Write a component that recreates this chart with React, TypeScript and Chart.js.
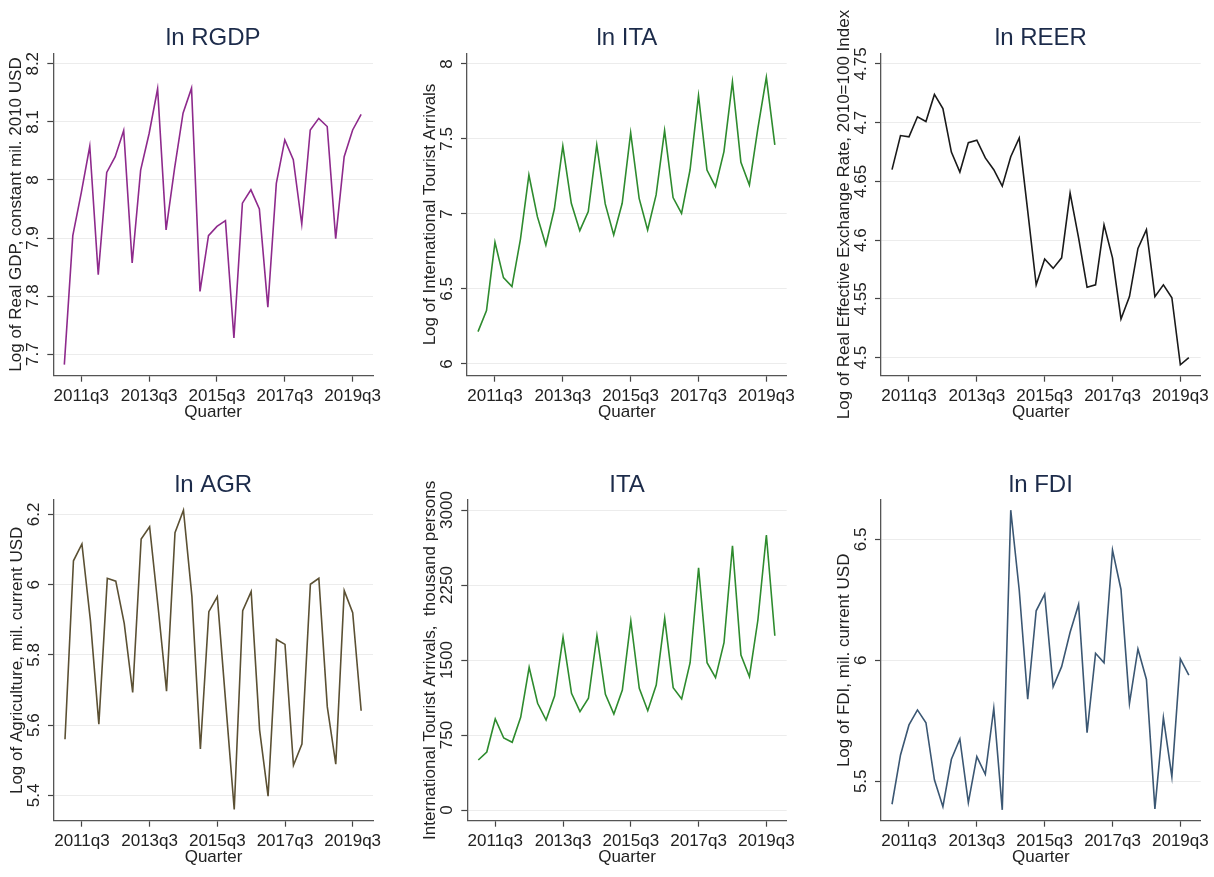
import React, { useEffect, useRef } from 'react';
import { Chart, registerables } from 'chart.js';

Chart.register(...registerables);

const quarters = [
  '2011q1', '2011q2', '2011q3', '2011q4', '2012q1', '2012q2', '2012q3', '2012q4',
  '2013q1', '2013q2', '2013q3', '2013q4', '2014q1', '2014q2', '2014q3', '2014q4',
  '2015q1', '2015q2', '2015q3', '2015q4', '2016q1', '2016q2', '2016q3', '2016q4',
  '2017q1', '2017q2', '2017q3', '2017q4', '2018q1', '2018q2', '2018q3', '2018q4',
  '2019q1', '2019q2', '2019q3', '2019q4',
];
const xTickLabels = ['2011q3', '2013q3', '2015q3', '2017q3', '2019q3'];

const lnRGDP = [7.682, 7.904, 7.978, 8.058, 7.837, 8.013, 8.04, 8.085, 7.857, 8.017, 8.08, 8.157, 7.914, 8.02, 8.115, 8.158, 7.808, 7.904, 7.92, 7.93, 7.728, 7.96, 7.983, 7.95, 7.781, 7.994, 8.069, 8.035, 7.924, 8.086, 8.106, 8.092, 7.899, 8.04, 8.086, 8.113];
const lnITA = [6.216, 6.356, 6.811, 6.576, 6.516, 6.831, 7.26, 6.982, 6.793, 7.033, 7.453, 7.071, 6.889, 7.016, 7.46, 7.067, 6.86, 7.071, 7.542, 7.104, 6.893, 7.127, 7.556, 7.109, 7.004, 7.293, 7.789, 7.293, 7.182, 7.416, 7.88, 7.344, 7.193, 7.571, 7.911, 7.46];
const lnREER = [4.66, 4.689, 4.688, 4.705, 4.701, 4.724, 4.712, 4.675, 4.658, 4.683, 4.685, 4.67, 4.66, 4.646, 4.671, 4.687, 4.625, 4.562, 4.584, 4.576, 4.585, 4.64, 4.602, 4.56, 4.562, 4.613, 4.585, 4.533, 4.552, 4.593, 4.609, 4.552, 4.562, 4.551, 4.494, 4.5];
const lnAGR = [5.56, 6.068, 6.116, 5.899, 5.603, 6.018, 6.01, 5.89, 5.693, 6.13, 6.165, 5.937, 5.697, 6.148, 6.212, 5.966, 5.532, 5.923, 5.966, 5.662, 5.36, 5.926, 5.98, 5.586, 5.398, 5.844, 5.83, 5.486, 5.546, 6.001, 6.018, 5.652, 5.489, 5.983, 5.92, 5.641];
const ITA = [500, 580, 910, 720, 677, 927, 1427, 1067, 900, 1140, 1727, 1167, 983, 1117, 1743, 1157, 960, 1200, 1890, 1217, 993, 1250, 1917, 1223, 1110, 1473, 2423, 1473, 1323, 1673, 2643, 1550, 1333, 1900, 2750, 1743];
const lnFDI = [5.405, 5.609, 5.733, 5.795, 5.742, 5.506, 5.395, 5.591, 5.675, 5.412, 5.602, 5.529, 5.802, 5.382, 6.621, 6.291, 5.839, 6.205, 6.274, 5.891, 5.974, 6.116, 6.231, 5.701, 6.029, 5.99, 6.456, 6.293, 5.822, 6.047, 5.921, 5.386, 5.763, 5.519, 6.006, 5.939];

const rgdpTicks = [7.7, 7.8, 7.9, 8, 8.1, 8.2];
const lnItaTicks = [6, 6.5, 7, 7.5, 8];
const reerTicks = [4.5, 4.55, 4.6, 4.65, 4.7, 4.75];
const agrTicks = [5.4, 5.6, 5.8, 6, 6.2];
const itaTicks = [0, 750, 1500, 2250, 3000];
const fdiTicks = [5.5, 6, 6.5];

const FONT = '"Liberation Sans", Arial, Helvetica, sans-serif';

type Panel = {
  title: string;
  yTitle: string;
  values: number[];
  yTicks: number[];
  yMin: number;
  yMax: number;
  color: string;
  box: { cx: number; cy: number; cw: number; ch: number };
  area: { L: number; T: number; R: number; B: number };
};

const topArea = { T: 53.3, B: 375.7 };
const botArea = { T: 500, B: 820.7 };

const panels: Panel[] = [
  {
    title: 'ln RGDP', yTitle: 'Log of Real GDP, constant mil. 2010 USD', values: lnRGDP,
    yTicks: rgdpTicks, yMin: 7.663, yMax: 8.218, color: '#8e2a8c',
    box: { cx: 0, cy: 0, cw: 405, ch: 438 }, area: { L: 53.3, R: 373, ...topArea },
  },
  {
    title: 'ln ITA', yTitle: 'Log of International Tourist Arrivals', values: lnITA,
    yTicks: lnItaTicks, yMin: 5.922, yMax: 8.071, color: '#2e8b2e',
    box: { cx: 405, cy: 0, cw: 400, ch: 438 }, area: { L: 467, R: 786.7, ...topArea },
  },
  {
    title: 'ln REER', yTitle: 'Log of Real Effective Exchange Rate, 2010=100 Index', values: lnREER,
    yTicks: reerTicks, yMin: 4.4847, yMax: 4.759, color: '#1a1a1a',
    box: { cx: 805, cy: 0, cw: 409, ch: 438 }, area: { L: 881, R: 1200.7, ...topArea },
  },
  {
    title: 'ln AGR', yTitle: 'Log of Agriculture, mil. current USD', values: lnAGR,
    yTicks: agrTicks, yMin: 5.328, yMax: 6.241, color: '#5b5033',
    box: { cx: 0, cy: 438, cw: 405, ch: 439 }, area: { L: 54, R: 373, ...botArea },
  },
  {
    title: 'ITA', yTitle: 'International Tourist Arrivals,  thousand persons', values: ITA,
    yTicks: itaTicks, yMin: -107, yMax: 3100, color: '#2e8b2e',
    box: { cx: 405, cy: 438, cw: 400, ch: 439 }, area: { L: 467.3, R: 786.7, ...botArea },
  },
  {
    title: 'ln FDI', yTitle: 'Log of FDI, mil. current USD', values: lnFDI,
    yTicks: fdiTicks, yMin: 5.337, yMax: 6.663, color: '#3b5773',
    box: { cx: 805, cy: 438, cw: 409, ch: 439 }, area: { L: 881, R: 1200.7, ...botArea },
  },
];

function PanelChart({ p }: { p: Panel }) {
  const ref = useRef<HTMLCanvasElement | null>(null);
  useEffect(() => {
    if (!ref.current) return;
    const { cx, cy, cw, ch } = p.box;
    const { L, T, R, B } = p.area;
    const textPlugin = {
      id: 'stataText',
      afterDraw(chart: any) {
        const { ctx, chartArea: ca, scales } = chart;
        const xs = scales.x;
        const ys = scales.y;
        ctx.save();
        ctx.textAlign = 'center';
        ctx.textBaseline = 'middle';
        ctx.fillStyle = '#1c2b4a';
        ctx.font = `24px ${FONT}`;
        ctx.fillText(p.title, (ca.left + ca.right) / 2, ca.top - 15);
        ctx.fillStyle = '#222';
        ctx.font = `17px ${FONT}`;
        for (const t of p.yTicks) {
          const py = ys.getPixelForValue(t);
          ctx.save();
          ctx.translate(ca.left - 20, py);
          ctx.rotate(-Math.PI / 2);
          ctx.fillText(String(t), 0, 0);
          ctx.restore();
        }
        ctx.save();
        ctx.translate(ca.left - 37, (ca.top + ca.bottom) / 2);
        ctx.rotate(-Math.PI / 2);
        ctx.fillText(p.yTitle, 0, 0);
        ctx.restore();
        for (const lab of xTickLabels) {
          const idx = quarters.indexOf(lab);
          ctx.fillText(lab, xs.getPixelForValue(idx), ca.bottom + 21);
        }
        ctx.fillText('Quarter', (ca.left + ca.right) / 2, ca.bottom + 37);
        ctx.restore();
      },
    };
    const chart = new Chart(ref.current, {
      type: 'line',
      data: {
        datasets: [
          {
            data: p.values.map((v, i) => ({ x: i, y: v })),
            borderColor: p.color,
            borderWidth: 1.6,
            pointRadius: 0,
            tension: 0,
            fill: false,
          },
        ],
      },
      options: {
        animation: false,
        responsive: false,
        devicePixelRatio: 1,
        layout: { padding: { left: 0, top: T - cy, right: cx + cw - R, bottom: 0 } },
        plugins: { legend: { display: false }, tooltip: { enabled: false }, title: { display: false } },
        scales: {
          x: {
            type: 'linear',
            min: -1.3,
            max: 36.4,
            afterBuildTicks: (s: any) => {
              s.ticks = xTickLabels.map((lab) => ({ value: quarters.indexOf(lab) }));
            },
            afterFit: (s: any) => {
              s.height = cy + ch - B;
            },
            ticks: { display: false },
            grid: { drawOnChartArea: false, drawTicks: true, tickLength: 6, tickColor: '#444', tickWidth: 1.2 },
            border: { display: true, color: '#555', width: 1.3 },
          },
          y: {
            type: 'linear',
            min: p.yMin,
            max: p.yMax,
            afterBuildTicks: (s: any) => {
              s.ticks = p.yTicks.map((v) => ({ value: v }));
            },
            afterFit: (s: any) => {
              s.width = L - cx;
            },
            ticks: { display: false },
            grid: { color: '#ececec', lineWidth: 1, drawTicks: true, tickLength: 6, tickColor: '#444', tickWidth: 1.2 },
            border: { display: true, color: '#555', width: 1.3 },
          },
        },
      } as any,
      plugins: [textPlugin],
    });
    return () => chart.destroy();
  }, [p]);
  return (
    <canvas
      ref={ref}
      width={p.box.cw}
      height={p.box.ch}
      style={{ position: 'absolute', left: p.box.cx, top: p.box.cy, width: p.box.cw, height: p.box.ch }}
    />
  );
}

export default function App() {
  return (
    <div style={{ position: 'absolute', left: 0, top: 0, width: 1214, height: 877, background: '#fff', overflow: 'hidden' }}>
      {panels.map((p) => (
        <PanelChart key={p.title} p={p} />
      ))}
    </div>
  );
}
